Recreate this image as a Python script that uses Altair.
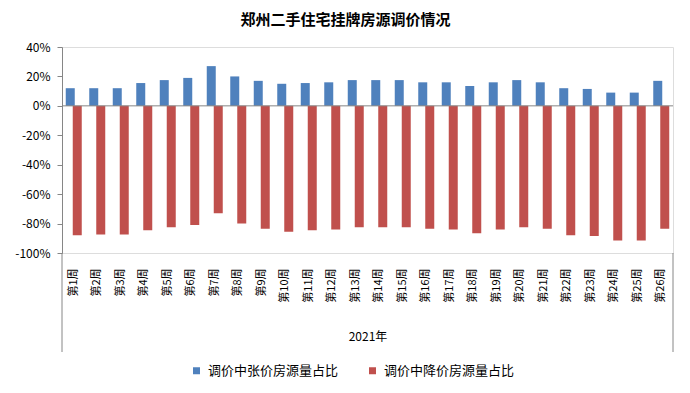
import altair as alt
import pandas as pd

weeks = ["第1周", "第2周", "第3周", "第4周", "第5周", "第6周", "第7周", "第8周", "第9周",
         "第10周", "第11周", "第12周", "第13周", "第14周", "第15周", "第16周", "第17周",
         "第18周", "第19周", "第20周", "第21周", "第22周", "第23周", "第24周", "第25周", "第26周"]
up_vals = [12, 12, 12, 15.5, 17.5, 19, 27, 20, 17, 15, 15.5, 16, 17.5, 17.5, 17.5, 16, 16,
           13.5, 16, 17.5, 16, 12, 11.5, 9, 9, 17]
down_vals = [-88, -87.5, -87.5, -84.5, -82.5, -81, -73, -80, -83.5, -85.5, -84.5, -84, -82.5,
             -82.5, -82.5, -83.5, -84, -86.5, -84, -82.5, -83.5, -88, -88.5, -91.5, -91.5, -83.5]
series_names = ["调价中张价房源量占比", "调价中降价房源量占比"]
series_colors = ["#4F81BD", "#C0504D"]
y_ticks = [-100, -80, -60, -40, -20, 0, 20, 40]
group_label = "2021年"
title_text = "郑州二手住宅挂牌房源调价情况"

rows = []
for w, u, d in zip(weeks, up_vals, down_vals):
    rows.append({"week": w, "series": series_names[0], "value": u})
    rows.append({"week": w, "series": series_names[1], "value": d})
df = pd.DataFrame(rows)

FONT = "Noto Sans CJK SC"
GRAY = "#868686"
W, H = 611, 206

y_axis = alt.Axis(values=y_ticks, labelExpr="datum.value + '%'", grid=False,
                  labelOverlap=False, title=None,
                  domainColor=GRAY, tickColor=GRAY, tickSize=5, labelPadding=7,
                  labelFont=FONT, labelFontSize=12, labelColor="#000")
y_scale = alt.Scale(domain=[-100, 40], nice=False)

base = alt.Chart(df).encode(
    x=alt.X("week:N", sort=weeks, title=group_label,
            scale=alt.Scale(paddingInner=0, paddingOuter=0),
            axis=alt.Axis(labelAngle=-90, labelAlign="right", labelBaseline="middle",
                          labelPadding=15, ticks=False, tickSize=0, domain=False,
                          labelOverlap=False,
                          labelFont=FONT, labelFontSize=11, labelColor="#000",
                          titleFont=FONT, titleFontSize=12, titleFontWeight="normal",
                          titleColor="#000", titleY=83, titleBaseline="middle")),
    y=alt.Y("value:Q", title=None, scale=y_scale, axis=y_axis),
    color=alt.Color("series:N",
                    scale=alt.Scale(domain=series_names, range=series_colors),
                    legend=alt.Legend(orient="none", legendX=128, legendY=317,
                                      direction="horizontal", title=None,
                                      symbolType="square", symbolSize=49,
                                      symbolStrokeWidth=0, labelFont=FONT,
                                      labelFontSize=13, labelColor="#000",
                                      labelOffset=5, columnPadding=27)),
)

up = base.transform_filter(alt.datum.series == series_names[0]).mark_bar(size=9, xOffset=-3.5)
down = base.transform_filter(alt.datum.series == series_names[1]).mark_bar(size=9, xOffset=3.5)

zero = alt.Chart(pd.DataFrame({"value": [0]})).mark_rule(color=GRAY, strokeWidth=1).encode(
    y=alt.Y("value:Q", title=None, scale=y_scale, axis=y_axis))

left_ext = alt.Chart(pd.DataFrame({"a": [0]})).mark_rule(color=GRAY, strokeWidth=1).encode(
    x=alt.value(0), y=alt.value(H), y2=alt.value(305))
right_ext = alt.Chart(pd.DataFrame({"a": [0]})).mark_rule(color=GRAY, strokeWidth=1).encode(
    x=alt.value(W), y=alt.value(H), y2=alt.value(305))

chart = alt.layer(up, down, zero, left_ext, right_ext).properties(
    width=W, height=H,
    title=alt.TitleParams(title_text, font=FONT, fontSize=15, fontWeight="bold",
                          color="#000", anchor="middle", dx=-22, offset=13),
    autosize=alt.AutoSizeParams(type="none"),
    padding={"left": 54, "top": 39, "right": 9, "bottom": 132},
).configure_view(stroke=None).configure(background="white").configure_axis(labelOverlap=False)

chart.save("out.html", embed_options={"renderer": "svg", "actions": False})
